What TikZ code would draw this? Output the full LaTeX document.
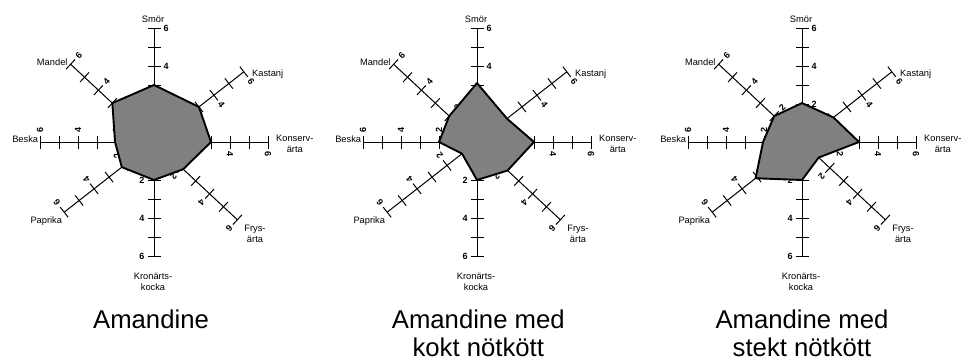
\documentclass[tikz,border=0pt]{standalone}
\usepackage{fontspec}
\setmainfont{Liberation Sans}
\tikzset{
 spokeline/.style={line width=1pt, draw=black},
 ticklab/.style={font=\fontsize{9}{9}\selectfont\bfseries, inner sep=0pt},
 axlab/.style={font=\fontsize{9.3}{11}\selectfont, inner sep=0pt, align=center},
 valpoly/.style={draw=black, line width=1.9pt, fill=gray, line join=round},
 titletext/.style={font=\fontsize{25.7}{28}\selectfont, inner sep=0pt, anchor=base},
}
\newcommand\spiderchart[4]{%
\begin{scope}[shift={(#2,#3)}]
 \coordinate (#1c) at (0,0);
 \foreach \ang [count=\i] in {90,38,0,-43,-90,218,180,137} {
   \pgfmathsetmacro\rot{ifthenelse(\ang==-90,0,\ang-90)}
   \begin{scope}[rotate=\ang]
     \coordinate (#1e\i) at (114,0);
     \draw[spokeline] (#1c) -- (#1e\i);
     \foreach \v in {1,...,6} \draw[spokeline] (\v*19,-6.5) -- (\v*19,6.5);
     \foreach \v in {2,4,6} \node[ticklab, rotate=\rot] (#1t\i-\v) at (\v*19,-12) {\v};
   \end{scope}
 }
 \node[axlab] (#1l1) at (-1,123) {Smör};
 \node[axlab, anchor=west] (#1l2) at (98,68) {Kastanj};
 \node[axlab, anchor=west] (#1l3) at (122,-1.5) {Konserv-\\ärta};
 \node[axlab] (#1l4) at (101,-92) {Frys-\\ärta};
 \node[axlab] (#1l5) at (-1,-140) {Kronärts-\\kocka};
 \node[axlab] (#1l6) at (-107.7,-78.7) {Paprika};
 \node[axlab, anchor=east] (#1l7) at (-115.7,2.7) {Beska};
 \node[axlab, anchor=east] (#1l8) at (-86.3,80.3) {Mandel};
 \foreach \val [count=\i] in {#4} {
   \pgfmathsetmacro\ang{{90,38,0,-43,-90,218,180,137}[\i-1]}
   \coordinate (#1v\i) at (\ang:\val*19);
 }
 \draw[valpoly] (#1v1) -- (#1v2) -- (#1v3) -- (#1v4) -- (#1v5) -- (#1v6) -- (#1v7) -- (#1v8) -- cycle;
\end{scope}}
\begin{document}
\begin{tikzpicture}[x=1pt,y=1pt]
 \useasboundingbox (0,0) rectangle (963,360);
 \spiderchart{a}{154}{218}{3,3,3,2.1,2,2.15,2.05,3}
 \spiderchart{b}{477}{218}{3.1,2,3,2.2,2,1,2,2}
 \spiderchart{c}{802}{218}{2.05,2.1,3,1.2,2,3.1,2.05,2}
 \node[titletext] (ta) at (151,31.7) {Amandine};
 \node[titletext] (tb1) at (478.3,31.7) {Amandine med};
 \node[titletext] (tb2) at (478.3,4) {kokt nötkött};
 \node[titletext] (tc1) at (802,31.7) {Amandine med};
 \node[titletext] (tc2) at (802,4) {stekt nötkött};
\end{tikzpicture}
\end{document}
